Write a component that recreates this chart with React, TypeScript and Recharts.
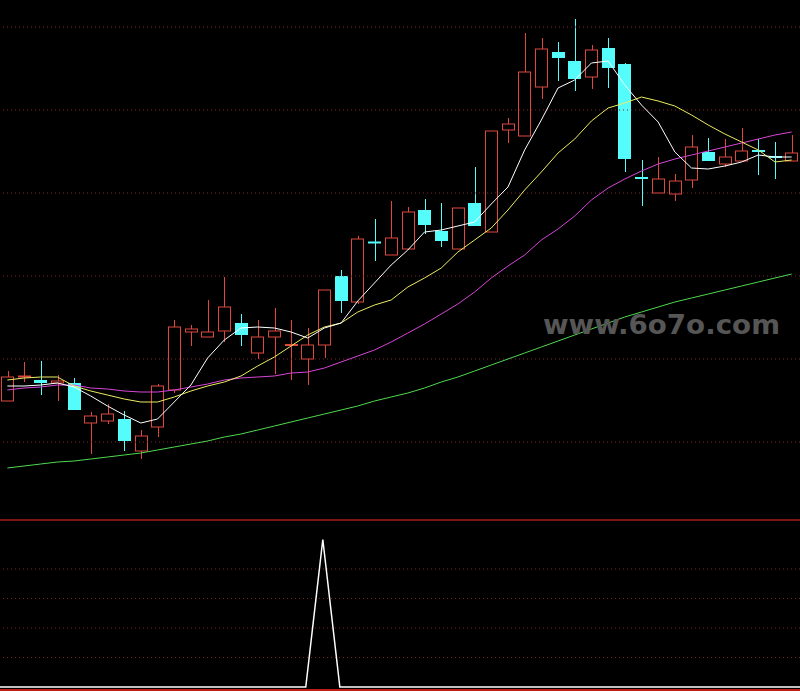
import React from 'react';
import { ComposedChart, Bar, Line, XAxis, YAxis, ReferenceLine } from 'recharts';

// daily candles
const OPEN = [
  5.99, 6.23, 6.2, 6.17, 6.17, 5.77, 5.79, 5.81, 5.49, 5.73,
  6.1, 6.68, 6.63, 6.69, 6.77, 6.47, 6.63, 6.54, 6.41, 6.55,
  7.24, 6.98, 7.58, 7.45, 7.51, 7.9, 7.69, 7.51, 7.97, 7.68,
  8.7, 8.64, 9.13, 9.48, 9.39, 9.23, 9.52, 9.36, 8.23, 8.07,
  8.06, 8.2, 8.48, 8.36, 8.39, 8.5, 8.44, 8.39,
];
const CLOSE = [
  6.23, 6.24, 6.17, 6.19, 5.9, 5.84, 5.86, 5.59, 5.64, 6.14,
  6.73, 6.71, 6.68, 6.93, 6.65, 6.63, 6.69, 6.56, 6.55, 7.1,
  6.99, 7.61, 7.57, 7.62, 7.88, 7.75, 7.59, 7.92, 7.74, 8.69,
  8.76, 9.28, 9.51, 9.42, 9.21, 9.5, 9.32, 8.41, 8.21, 8.21,
  8.19, 8.53, 8.39, 8.43, 8.49, 8.48, 8.42, 8.47,
];
const HIGH = [
  6.29, 6.38, 6.39, 6.25, 6.22, 5.88, 5.96, 5.89, 5.7, 6.16,
  6.8, 6.75, 7.0, 7.23, 6.86, 6.8, 6.92, 6.8, 6.72, 7.1,
  7.3, 7.64, 7.81, 7.99, 7.93, 8.01, 7.97, 7.92, 8.33, 8.69,
  8.82, 9.67, 9.62, 9.58, 9.81, 9.55, 9.62, 9.37, 8.4, 8.43,
  8.26, 8.65, 8.62, 8.61, 8.72, 8.61, 8.58, 8.65,
];
const LOW = [
  5.99, 6.18, 6.05, 5.99, 5.9, 5.46, 5.76, 5.49, 5.41, 5.63,
  6.07, 6.54, 6.63, 6.58, 6.54, 6.41, 6.26, 6.2, 6.15, 6.42,
  6.87, 6.96, 7.39, 7.45, 7.51, 7.66, 7.53, 7.51, 7.74, 7.68,
  8.57, 8.64, 9.01, 9.19, 9.09, 9.11, 9.12, 8.28, 7.94, 8.07,
  7.99, 8.12, 8.39, 8.33, 8.39, 8.25, 8.21, 8.39,
];

// moving averages as drawn
const MA5 = [
  6.14, 6.14, 6.15, 6.17, 6.13, 6.04, 5.94, 5.85, 5.77, 5.81,
  5.98, 6.15, 6.42, 6.6, 6.72, 6.73, 6.72, 6.68, 6.62, 6.72,
  6.77, 6.99, 7.17, 7.35, 7.5, 7.68, 7.7, 7.74, 7.78, 7.96,
  8.13, 8.5, 8.8, 9.12, 9.2, 9.37, 9.39, 9.15, 8.95, 8.78,
  8.48, 8.32, 8.31, 8.34, 8.38, 8.45, 8.43, 8.43,
];
const MA10 = [
  6.2, 6.22, 6.23, 6.23, 6.14, 6.09, 6.05, 6.01, 5.98, 5.98,
  6.03, 6.09, 6.14, 6.18, 6.24, 6.34, 6.43, 6.54, 6.65, 6.73,
  6.77, 6.88, 6.95, 7.0, 7.13, 7.22, 7.32, 7.48, 7.6, 7.72,
  7.9, 8.1, 8.28, 8.47, 8.61, 8.79, 8.92, 8.97, 9.03, 8.99,
  8.94, 8.85, 8.75, 8.66, 8.58, 8.5, 8.38, 8.4,
];
const MA20 = [
  6.1, 6.12, 6.13, 6.15, 6.15, 6.12, 6.11, 6.09, 6.08, 6.08,
  6.1, 6.13, 6.16, 6.2, 6.22, 6.23, 6.24, 6.27, 6.28, 6.32,
  6.38, 6.44, 6.5, 6.58, 6.67, 6.76, 6.86, 6.96, 7.08, 7.22,
  7.34, 7.45, 7.6, 7.71, 7.84, 8.0, 8.12, 8.21, 8.29, 8.36,
  8.41, 8.45, 8.49, 8.53, 8.57, 8.61, 8.65, 8.68,
];
const MA60 = [
  5.32, 5.34, 5.36, 5.38, 5.39, 5.41, 5.43, 5.45, 5.47, 5.5,
  5.53, 5.56, 5.59, 5.63, 5.66, 5.7, 5.74, 5.78, 5.82, 5.86,
  5.9, 5.94, 5.99, 6.03, 6.07, 6.12, 6.18, 6.23, 6.29, 6.35,
  6.41, 6.47, 6.53, 6.59, 6.65, 6.71, 6.77, 6.83, 6.88, 6.93,
  6.98, 7.02, 7.06, 7.1, 7.14, 7.18, 7.22, 7.26,
];

// lower indicator
const SIGNAL = [
  0, 0, 0, 0, 0, 0, 0, 0, 0, 0,
  0, 0, 0, 0, 0, 0, 0, 0, 0, 5,
  0, 0, 0, 0, 0, 0, 0, 0, 0, 0,
  0, 0, 0, 0, 0, 0, 0, 0, 0, 0,
  0, 0, 0, 0, 0, 0, 0, 0,
];

const PRICE_GRID = [9.73, 8.9, 8.07, 7.24, 6.41, 5.58];
const SIGNAL_GRID = [1, 2, 3, 4];

const UP = '#e0483e';
const DOWN = '#54fcfc';
const GRID = '#7a2424';

const data = OPEN.map((o, i) => ({
  i,
  open: o,
  close: CLOSE[i],
  high: HIGH[i],
  low: LOW[i],
  range: [LOW[i], HIGH[i]],
  ma5: MA5[i],
  ma10: MA10[i],
  ma20: MA20[i],
  ma60: MA60[i],
  signal: SIGNAL[i],
}));

function Candle(props: any) {
  const { x, y, width, height, payload } = props;
  if (x == null || !payload) return null;
  const { open, close, high, low } = payload;
  const top = Math.min(y, y + height);
  const ppu = Math.abs(height) / (high - low || 1);
  const toY = (v: number) => top + (high - v) * ppu;
  const cx = Math.round(x + width / 2) + 0.5;
  const left = Math.round(x) + 0.5;
  const w = Math.round(width) - 1;
  const up = close >= open;
  const color = up ? UP : DOWN;
  const bTop = toY(Math.max(open, close));
  const bBot = toY(Math.min(open, close));
  const yHigh = toY(high);
  const yLow = toY(low);

  if (bBot - bTop < 2) {
    const mid = (bTop + bBot) / 2;
    return (
      <g>
        <line x1={cx} x2={cx} y1={yHigh} y2={yLow} stroke={color} strokeWidth={1} />
        <rect x={left - 0.5} y={mid - 1} width={w + 1} height={2} fill={color} />
      </g>
    );
  }
  if (up) {
    return (
      <g>
        <line x1={cx} x2={cx} y1={yHigh} y2={bTop} stroke={color} strokeWidth={1} />
        <line x1={cx} x2={cx} y1={bBot} y2={yLow} stroke={color} strokeWidth={1} />
        <rect x={left} y={bTop} width={w} height={bBot - bTop} fill="#000" stroke={color} strokeWidth={1} />
      </g>
    );
  }
  return (
    <g>
      <line x1={cx} x2={cx} y1={yHigh} y2={yLow} stroke={color} strokeWidth={1} />
      <rect x={left - 0.5} y={bTop} width={w + 1} height={bBot - bTop} fill={color} />
    </g>
  );
}

export default function App() {
  return (
    <div
      style={{
        position: 'fixed',
        left: 0,
        top: 0,
        width: 800,
        height: 691,
        background: '#000',
        overflow: 'hidden',
      }}
    >
      <div style={{ position: 'absolute', left: -1, top: 0 }}>
        <ComposedChart width={801} height={520} data={data} margin={{ top: 0, right: 0, bottom: 0, left: 0 }}>
          <XAxis dataKey="i" type="category" hide />
          <YAxis hide domain={[4.8, 10]} allowDataOverflow />
          {PRICE_GRID.map((v) => (
            <ReferenceLine key={v} y={v} stroke={GRID} strokeDasharray="1 3" />
          ))}
          <Bar dataKey="range" barSize={13} shape={<Candle />} isAnimationActive={false} />
          <Line dataKey="ma60" type="linear" stroke="#4fd84f" strokeWidth={1} dot={false} isAnimationActive={false} />
          <Line dataKey="ma20" type="linear" stroke="#d845d8" strokeWidth={1} dot={false} isAnimationActive={false} />
          <Line dataKey="ma10" type="linear" stroke="#ecec62" strokeWidth={1} dot={false} isAnimationActive={false} />
          <Line dataKey="ma5" type="linear" stroke="#ffffff" strokeWidth={1} dot={false} isAnimationActive={false} />
        </ComposedChart>
      </div>

      <svg style={{ position: 'absolute', left: 0, top: 0 }} width={800} height={520}>
        <text
          x={543}
          y={334}
          textLength={237}
          lengthAdjust="spacingAndGlyphs"
          fontFamily="DejaVu Sans"
          fontWeight="bold"
          fontSize={27}
          fill="#565656"
        >
          www.6o7o.com
        </text>
      </svg>

      <div style={{ position: 'absolute', left: 0, top: 519, width: 800, height: 2, background: '#7c1414' }} />

      <div style={{ position: 'absolute', left: -1, top: 520 }}>
        <ComposedChart width={801} height={171} data={data} margin={{ top: 0, right: 0, bottom: 0, left: 0 }}>
          <XAxis dataKey="i" type="category" hide />
          <YAxis hide domain={[-0.136, 5.661]} allowDataOverflow />
          {SIGNAL_GRID.map((v) => (
            <ReferenceLine key={v} y={v} stroke={GRID} strokeDasharray="1 3" />
          ))}
          <Line dataKey="signal" type="linear" stroke="#ffffff" strokeWidth={1.5} dot={false} isAnimationActive={false} />
        </ComposedChart>
      </div>

      <div style={{ position: 'absolute', left: 0, top: 689, width: 800, height: 2, background: '#c01c1c' }} />
    </div>
  );
}
